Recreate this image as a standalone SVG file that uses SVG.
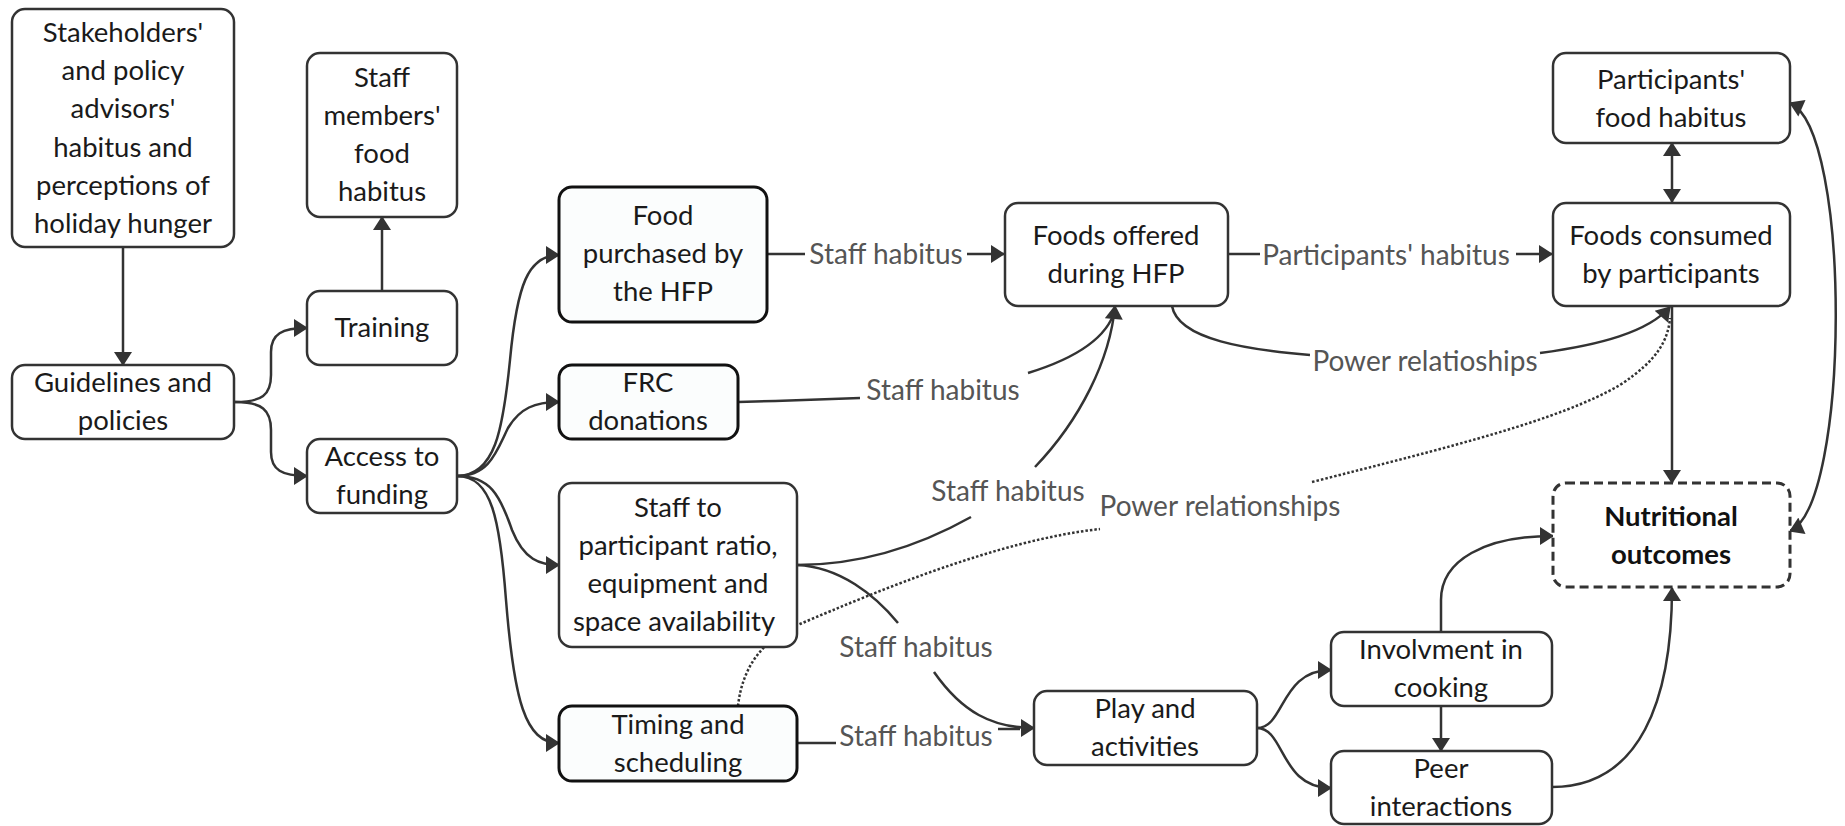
<svg xmlns="http://www.w3.org/2000/svg" width="1845" height="826" viewBox="0 0 1845 826">
<defs>
<marker id="ah" markerUnits="userSpaceOnUse" markerWidth="16" markerHeight="18" viewBox="0 0 14 18" refX="13" refY="9" orient="auto-start-reverse">
<path d="M0,0 L14,9 L0,18 Z" fill="#333"/>
</marker>
<style>
.n{fill:#fff;stroke:#333;stroke-width:2.5}
.h{fill:#fbfdfd;stroke:#111;stroke-width:3}
.d{fill:#fff;stroke:#333;stroke-width:3;stroke-dasharray:9 5}
.t{font-family:Lato,"Liberation Sans",sans-serif;font-size:27.5px;fill:#1a1a1a;text-anchor:middle}
.b{font-weight:bold;fill:#111}
.l{font-family:Lato,"Liberation Sans",sans-serif;font-size:28px;fill:#555;text-anchor:middle}
.e{fill:none;stroke:#333;stroke-width:2.5}
.a{marker-end:url(#ah)}
.ab{marker-start:url(#ah);marker-end:url(#ah)}
.dot{fill:none;stroke:#333;stroke-width:2.5;stroke-dasharray:2.5 2}
</style>
</defs>
<rect width="1845" height="826" fill="#fff"/>

<g id="connectors">
<path class="dot" d="M738,706 C742,670 760,640 800,624 C880,590 1000,540 1100,529"/>
<path class="dot" d="M1312,482 C1450,447 1560,420 1620,385 C1658,360 1668,340 1670,318"/>

<path class="e a" d="M123,247 L123,365"/>
<path class="e a" d="M382,291 L382,217"/>
<path class="e a" d="M235,402 C262,402 271,395 271,375 L271,352 C271,334 282,328 307,328"/>
<path class="e a" d="M235,402 C262,402 271,410 271,430 L271,452 C271,470 282,476 307,476"/>

<path class="e a" d="M457,476 C495,476 503,430 510,360 C517,285 528,255 559,255"/>
<path class="e a" d="M457,476 C490,476 497,450 508,428 C520,408 535,402 559,402"/>
<path class="e a" d="M457,476 C490,476 500,495 512,530 C524,560 540,565 559,565"/>
<path class="e a" d="M457,476 C492,476 500,520 506,600 C514,700 525,743 559,743"/>

<path class="e" d="M767,254 L805,254"/>
<path class="e a" d="M967,254 L1004,254"/>

<path class="e" d="M738,402 C780,401 830,399 860,398"/>
<path class="e" d="M1028,373 C1080,357 1108,335 1115,310"/>

<path class="e" d="M797,565 C870,565 930,540 971,517"/>
<path class="e a" d="M1035,467 C1080,420 1110,360 1115,306"/>

<path class="e" d="M797,565 C840,567 875,595 898,623"/>
<path class="e a" d="M934,672 C962,712 992,728 1034,728"/>
<path class="e" d="M797,743 L836,743"/>
<path class="e" d="M998,729 L1020,729"/>

<path class="e" d="M1228,254 L1260,254"/>
<path class="e a" d="M1516,254 L1552,254"/>

<path class="e" d="M1172,306 C1178,340 1250,350 1310,355"/>
<path class="e a" d="M1540,353 C1600,345 1648,332 1670,307"/>

<path class="e ab" d="M1672,143 L1672,202"/>
<path class="e a" d="M1672,307 L1672,483"/>
<path class="e ab" d="M1790,531 C1850,505 1852,130 1790,103"/>

<path class="e a" d="M1257,728 C1285,728 1280,670 1331,670"/>
<path class="e a" d="M1257,728 C1285,728 1280,788 1331,788"/>
<path class="e a" d="M1441,706 L1441,751"/>
<path class="e a" d="M1441,632 L1441,600 C1441,560 1485,536 1553,536"/>
<path class="e a" d="M1552,787 C1640,787 1672,700 1672,588"/>

<text class="l" x="886" y="264">Staff habitus</text>
<text class="l" x="943" y="400">Staff habitus</text>
<text class="l" x="1008" y="501">Staff habitus</text>
<text class="l" x="916" y="657">Staff habitus</text>
<text class="l" x="916" y="746">Staff habitus</text>
<text class="l" x="1386" y="265">Participants' habitus</text>
<text class="l" x="1425" y="371">Power relatioships</text>
<text class="l" x="1220" y="516">Power relationships</text>
</g>

<g id="stakeholders">
<rect class="n" x="12" y="9" width="222" height="238" rx="13"/>
<text class="t" x="123" y="42">Stakeholders'</text>
<text class="t" x="123" y="80">and policy</text>
<text class="t" x="123" y="118">advisors'</text>
<text class="t" x="123" y="157">habitus and</text>
<text class="t" x="123" y="195">perceptions of</text>
<text class="t" x="123" y="233">holiday hunger</text>
</g>

<g id="staff-members">
<rect class="n" x="307" y="53" width="150" height="164" rx="13"/>
<text class="t" x="382" y="87">Staff</text>
<text class="t" x="382" y="125">members'</text>
<text class="t" x="382" y="163">food</text>
<text class="t" x="382" y="201">habitus</text>
</g>

<g id="training">
<rect class="n" x="307" y="291" width="150" height="74" rx="13"/>
<text class="t" x="382" y="337">Training</text>
</g>

<g id="guidelines">
<rect class="n" x="12" y="365" width="222" height="74" rx="13"/>
<text class="t" x="123" y="392">Guidelines and</text>
<text class="t" x="123" y="430">policies</text>
</g>

<g id="access">
<rect class="n" x="307" y="439" width="150" height="74" rx="13"/>
<text class="t" x="382" y="466">Access to</text>
<text class="t" x="382" y="504">funding</text>
</g>

<g id="food-purchased">
<rect class="h" x="559" y="187" width="208" height="135" rx="13"/>
<text class="t" x="663" y="225">Food</text>
<text class="t" x="663" y="263">purchased by</text>
<text class="t" x="663" y="301">the HFP</text>
</g>

<g id="frc">
<rect class="h" x="559" y="365" width="179" height="74" rx="13"/>
<text class="t" x="648" y="392">FRC</text>
<text class="t" x="648" y="430">donations</text>
</g>

<g id="staff-ratio">
<rect class="n" x="559" y="483" width="238" height="164" rx="13"/>
<text class="t" x="678" y="517">Staff to</text>
<text class="t" x="678" y="555">participant ratio,</text>
<text class="t" x="678" y="593">equipment and</text>
<text class="t" x="674" y="631">space availability</text>
</g>

<g id="timing">
<rect class="h" x="559" y="706" width="238" height="75" rx="13"/>
<text class="t" x="678" y="734">Timing and</text>
<text class="t" x="678" y="772">scheduling</text>
</g>

<g id="foods-offered">
<rect class="n" x="1005" y="203" width="223" height="103" rx="13"/>
<text class="t" x="1116" y="245">Foods offered</text>
<text class="t" x="1116" y="283">during HFP</text>
</g>

<g id="participants-habitus">
<rect class="n" x="1553" y="53" width="237" height="90" rx="13"/>
<text class="t" x="1671" y="89">Participants'</text>
<text class="t" x="1671" y="127">food habitus</text>
</g>

<g id="foods-consumed">
<rect class="n" x="1553" y="203" width="237" height="103" rx="13"/>
<text class="t" x="1671" y="245">Foods consumed</text>
<text class="t" x="1671" y="283">by participants</text>
</g>

<g id="nutritional">
<rect class="d" x="1553" y="483" width="237" height="104" rx="13"/>
<text class="t b" x="1671" y="526">Nutritional</text>
<text class="t b" x="1671" y="564">outcomes</text>
</g>

<g id="play">
<rect class="n" x="1034" y="691" width="223" height="74" rx="13"/>
<text class="t" x="1145" y="718">Play and</text>
<text class="t" x="1145" y="756">activities</text>
</g>

<g id="involvment">
<rect class="n" x="1331" y="632" width="221" height="74" rx="13"/>
<text class="t" x="1441" y="659">Involvment in</text>
<text class="t" x="1441" y="697">cooking</text>
</g>

<g id="peer">
<rect class="n" x="1331" y="751" width="221" height="73" rx="13"/>
<text class="t" x="1441" y="778">Peer</text>
<text class="t" x="1441" y="816">interactions</text>
</g>
</svg>
